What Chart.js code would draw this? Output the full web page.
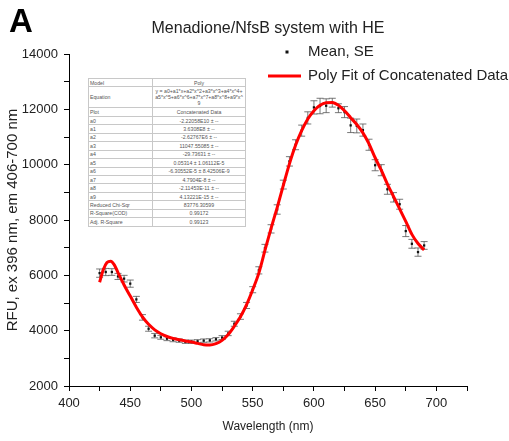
<!DOCTYPE html>
<html>
<head>
<meta charset="utf-8">
<script src="https://cdn.jsdelivr.net/npm/chart.js@4.4.1/dist/chart.umd.min.js"></script>
<style>
  body { margin: 0; background: #fff; }
  #wrap { position: relative; width: 509px; height: 441px; }
  #fitTable {
    position: absolute; left: 88px; top: 78px; width: 157px;
    border-collapse: collapse; table-layout: fixed; background: #fff;
    font-family: "Liberation Sans", Arial, sans-serif; font-size: 5.2px; color: #555;
    border: 1px solid #999;
  }
  #fitTable td { border: 1px solid #c8c8c8; padding: 0 1px; line-height: 6px; overflow: hidden; white-space: nowrap; }
  #fitTable td + td { text-align: center; }
  #fitTable tr { height: 8.45px; }
  #fitTable tr.eq { height: 21px; }
  #fitTable tr.eq td + td { white-space: normal; }
</style>
</head>
<body>
<div id="wrap">
  <canvas id="rfuChart" width="509" height="441"></canvas>
  <table id="fitTable">
    <colgroup><col style="width:64px"><col style="width:93px"></colgroup>
    <tr><td>Model</td><td>Poly</td></tr>
    <tr class="eq"><td>Equation</td><td>y = a0+a1*x+a2*x^2+a3*x^3+a4*x^4+<br>a5*x^5+a6*x^6+a7*x^7+a8*x^8+a9*x^<br>9</td></tr>
    <tr><td>Plot</td><td>Concatenated Data</td></tr>
    <tr><td>a0</td><td>-2.22058E10 ± --</td></tr>
    <tr><td>a1</td><td>3.6308E8 ± --</td></tr>
    <tr><td>a2</td><td>-2.62767E6 ± --</td></tr>
    <tr><td>a3</td><td>11047.55085 ± --</td></tr>
    <tr><td>a4</td><td>-29.73631 ± --</td></tr>
    <tr><td>a5</td><td>0.05314 ± 1.06112E-5</td></tr>
    <tr><td>a6</td><td>-6.30552E-5 ± 8.42506E-9</td></tr>
    <tr><td>a7</td><td>4.7904E-8 ± --</td></tr>
    <tr><td>a8</td><td>-2.11453E-11 ± --</td></tr>
    <tr><td>a9</td><td>4.13221E-15 ± --</td></tr>
    <tr><td>Reduced Chi-Sqr</td><td>83776.30599</td></tr>
    <tr><td>R-Square(COD)</td><td>0.99172</td></tr>
    <tr><td>Adj. R-Square</td><td>0.99123</td></tr>
  </table>
</div>
<script>
// measured spectrum (mean and standard error)
const wavelengths = [425, 430, 435, 440, 445, 450, 455, 460, 465, 470, 475, 480, 485, 490, 495,
  500, 505, 510, 515, 520, 525, 530, 535, 540, 545, 550, 555, 560, 565, 570, 575, 580, 585, 590,
  595, 600, 605, 610, 615, 620, 625, 630, 635, 640, 645, 650, 655, 660, 665, 670, 675, 680, 685, 690];
const meanRfu = [6080, 6120, 6120, 5960, 5880, 5700, 5130, 4480, 4070, 3820, 3760, 3710, 3670, 3640, 3600,
  3600, 3615, 3640, 3650, 3690, 3750, 3900, 4250, 4510, 4910, 5480, 6180, 6980, 7680, 8380, 9280, 10120, 10720, 11230,
  11690, 12070, 12120, 12130, 12240, 12040, 11900, 11420, 11400, 11250, 10720, 9980, 9800, 9110, 8820, 8570, 7600, 7140, 6840, 7080];
const seRfu = [150, 130, 120, 110, 120, 130, 110, 100, 90, 80, 70, 70, 70, 60, 60,
  60, 60, 60, 60, 60, 70, 80, 90, 100, 110, 110, 130, 140, 150, 170, 160, 170, 180, 200,
  220, 240, 280, 250, 160, 160, 200, 260, 250, 220, 200, 200, 200, 180, 170, 180, 200, 160, 150, 140];

// polynomial fit curve
const fitWl = [425, 428, 431, 434, 437, 440, 445, 450, 455, 460, 465, 470, 475, 480, 485, 490, 495,
  500, 505, 510, 515, 520, 525, 530, 535, 540, 545, 550, 555, 560, 565, 570, 575, 580, 585, 590,
  595, 600, 605, 610, 615, 620, 625, 630, 635, 640, 645, 650, 655, 660, 665, 670, 675, 680, 685, 690];
const fitRfu = [5750, 6200, 6460, 6510, 6380, 6100, 5650, 5250, 4850, 4500, 4230, 4030, 3890, 3790, 3720, 3670, 3630,
  3590, 3540, 3490, 3480, 3530, 3650, 3860, 4160, 4500, 4940, 5480, 6080, 6900, 7700, 8450, 9250, 10030, 10700, 11230,
  11650, 11950, 12150, 12240, 12250, 12150, 11950, 11700, 11450, 11150, 10750, 10250, 9800, 9300, 8850, 8400, 7950, 7480, 7150, 6920];

const FONT = '"Liberation Sans", Arial, sans-serif';

// error bars with caps, drawn under the markers
const seBars = {
  id: 'seBars',
  beforeDatasetsDraw(chart) {
    const { ctx, scales: { x, y } } = chart;
    ctx.save();
    ctx.strokeStyle = '#555';
    ctx.lineWidth = 0.8;
    wavelengths.forEach((wl, i) => {
      const px = x.getPixelForValue(wl);
      const top = y.getPixelForValue(meanRfu[i] + seRfu[i]);
      const bot = y.getPixelForValue(meanRfu[i] - seRfu[i]);
      ctx.beginPath();
      ctx.moveTo(px, top); ctx.lineTo(px, bot);
      ctx.moveTo(px - 3.5, top); ctx.lineTo(px + 3.5, top);
      ctx.moveTo(px - 3.5, bot); ctx.lineTo(px + 3.5, bot);
      ctx.stroke();
    });
    ctx.restore();
  }
};

// panel letter, title over the plot area, legend
const decorations = {
  id: 'decorations',
  afterDraw(chart) {
    const { ctx, chartArea } = chart;
    ctx.save();
    ctx.fillStyle = '#000';
    ctx.font = 'bold 33px ' + FONT;
    ctx.textBaseline = 'alphabetic';
    ctx.fillText('A', 9, 32);

    ctx.fillStyle = '#222';
    ctx.font = '16px ' + FONT;
    ctx.textAlign = 'center';
    ctx.textBaseline = 'middle';
    ctx.fillText('Menadione/NfsB system with HE', (chartArea.left + chartArea.right) / 2, 29);

    ctx.textAlign = 'left';
    ctx.font = '15px ' + FONT;
    ctx.fillStyle = '#111';
    ctx.fillRect(285.5, 50.5, 3, 3);
    ctx.fillStyle = '#222';
    ctx.fillText('Mean, SE', 308, 52);

    ctx.strokeStyle = '#ff0000';
    ctx.lineWidth = 3;
    ctx.beginPath();
    ctx.moveTo(268, 76); ctx.lineTo(301, 76);
    ctx.stroke();
    ctx.fillText('Poly Fit of Concatenated Data', 308, 76);
    ctx.restore();
  }
};

new Chart(document.getElementById('rfuChart'), {
  type: 'scatter',
  data: {
    datasets: [
      {
        label: 'Poly Fit of Concatenated Data',
        data: fitWl.map((wl, i) => ({ x: wl, y: fitRfu[i] })),
        showLine: true,
        borderColor: '#ff0000',
        borderWidth: 3,
        pointRadius: 0,
        cubicInterpolationMode: 'monotone'
      },
      {
        label: 'Mean, SE',
        data: wavelengths.map((wl, i) => ({ x: wl, y: meanRfu[i] })),
        pointStyle: 'rect',
        pointRadius: 1.6,
        backgroundColor: '#111',
        borderWidth: 0
      }
    ]
  },
  options: {
    responsive: false,
    animation: false,
    layout: { padding: { top: 54, right: 42, bottom: 0, left: 0 } },
    plugins: {
      legend: { display: false },
      tooltip: { enabled: false },
      title: { display: false }
    },
    scales: {
      x: {
        type: 'linear',
        min: 400,
        max: 725,
        afterFit(scale) { scale.height = 55; },
        border: { color: '#000', width: 1 },
        grid: { drawOnChartArea: false, tickLength: 5, color: '#000' },
        ticks: {
          stepSize: 25,
          autoSkip: false,
          maxRotation: 0,
          padding: 5,
          color: '#222',
          font: { family: FONT, size: 13 },
          callback: v => (v % 50 === 0 ? v : '')
        },
        title: {
          display: true,
          text: 'Wavelength (nm)',
          color: '#222',
          font: { family: FONT, size: 12 },
          padding: { top: 0, bottom: 7 }
        }
      },
      y: {
        min: 2000,
        max: 14000,
        afterFit(scale) { scale.width = 69; },
        border: { color: '#000', width: 1 },
        grid: { drawOnChartArea: false, tickLength: 5, color: '#000' },
        ticks: {
          stepSize: 1000,
          padding: 6,
          color: '#222',
          font: { family: FONT, size: 13 },
          callback: v => (v % 2000 === 0 ? v : '')
        },
        title: {
          display: true,
          text: 'RFU, ex 396 nm, em 406-700 nm',
          color: '#222',
          font: { family: FONT, size: 15 },
          padding: { top: 4, bottom: 0 }
        }
      }
    }
  },
  plugins: [seBars, decorations]
});
</script>
</body>
</html>
